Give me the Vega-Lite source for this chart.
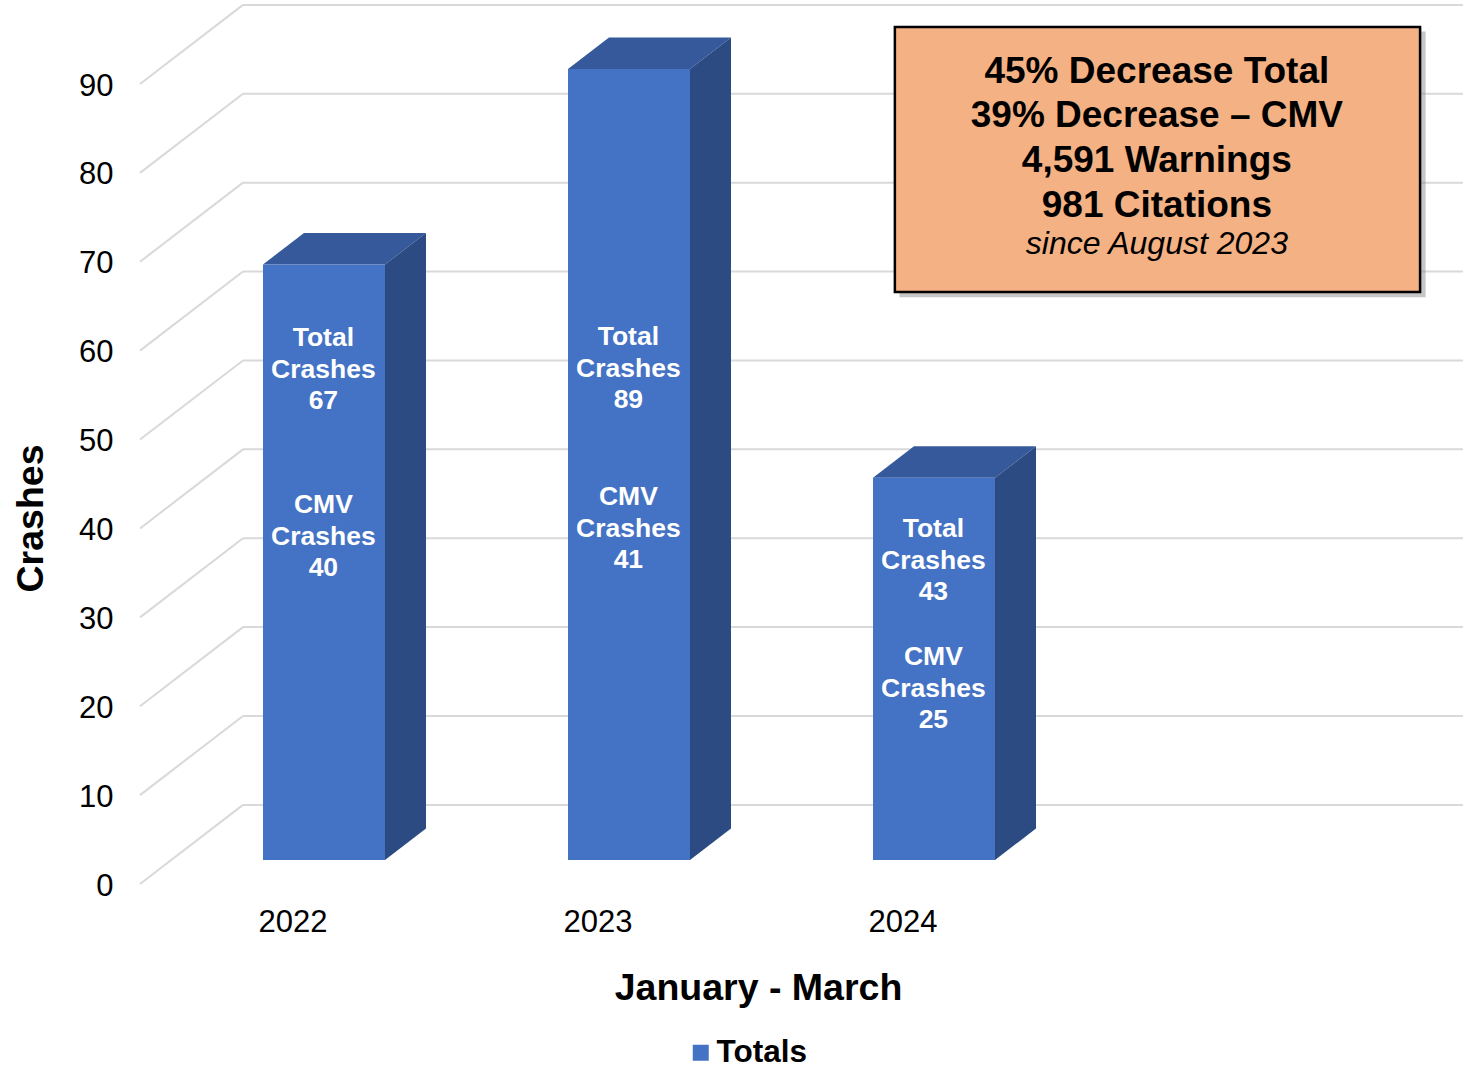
{
  "$schema": "https://vega.github.io/schema/vega-lite/v6.json",
  "width": 1323,
  "height": 880,
  "autosize": {"type": "none"},
  "padding": {"left": 140, "top": 4, "right": 10, "bottom": 185},
  "background": "white",
  "config": {"view": {"stroke": null}, "font": "Liberation Sans"},
  "datasets": {
    "bars": [
      {"year": 2022, "total": 67, "cmv": 40},
      {"year": 2023, "total": 89, "cmv": 41},
      {"year": 2024, "total": 43, "cmv": 25}
    ],
    "grid": [
      {"v": 0}, {"v": 10}, {"v": 20}, {"v": 30}, {"v": 40},
      {"v": 50}, {"v": 60}, {"v": 70}, {"v": 80}, {"v": 90}
    ],
    "labels": [
      {"year": 2022, "kind": "Total", "n": 67, "at": 61.4},
      {"year": 2022, "kind": "CMV", "n": 40, "at": 42.6},
      {"year": 2023, "kind": "Total", "n": 89, "at": 61.5},
      {"year": 2023, "kind": "CMV", "n": 41, "at": 43.5},
      {"year": 2024, "kind": "Total", "n": 43, "at": 39.9},
      {"year": 2024, "kind": "CMV", "n": 25, "at": 25.5}
    ]
  },
  "layer": [
    {
      "data": {"name": "grid"},
      "transform": [{"calculate": "datum.v + 8.9", "as": "vb"}],
      "mark": {"type": "rule", "color": "#D9D9D9", "strokeWidth": 2},
      "encoding": {
        "x": {
          "datum": 2021.5, "type": "quantitative",
          "scale": {"domain": [2021.5, 2025.8377], "nice": false, "zero": false},
          "axis": {
            "title": "January - March", "values": [2022, 2023, 2024], "format": "d",
            "domain": false, "ticks": false, "grid": false, "labelFlush": false,
            "labelFontSize": 31, "labelColor": "black", "labelPadding": 23,
            "titleFontSize": 37.5, "titleFontWeight": "bold", "titleColor": "black",
            "titleX": 618, "titleY": 115, "titleAlign": "center", "titleBaseline": "alphabetic"
          }
        },
        "x2": {"datum": 2021.8377},
        "y": {
          "field": "v", "type": "quantitative",
          "scale": {"domain": [0, 99], "nice": false, "zero": true},
          "axis": {
            "title": "Crashes", "values": [0, 10, 20, 30, 40, 50, 60, 70, 80, 90],
            "domain": false, "ticks": false, "grid": false, "labelFlush": false,
            "labelFontSize": 31, "labelColor": "black", "labelPadding": 27, "labelOffset": 2,
            "titleFontSize": 37.5, "titleFontWeight": "bold", "titleColor": "black",
            "titleX": -98, "titleY": 514, "titleAngle": 270, "titleAlign": "center", "titleBaseline": "alphabetic"
          }
        },
        "y2": {"field": "vb"}
      }
    },
    {
      "data": {"name": "grid"},
      "transform": [{"calculate": "datum.v + 8.9", "as": "vb"}],
      "mark": {"type": "rule", "color": "#D9D9D9", "strokeWidth": 2},
      "encoding": {
        "x": {"datum": 2021.8377, "type": "quantitative"},
        "x2": {"datum": 2025.8377},
        "y": {"field": "vb", "type": "quantitative"}
      }
    },
    {
      "data": {"name": "bars"},
      "transform": [
        {"fold": ["total", "cmv"], "as": ["k", "kv"]},
        {"calculate": "datum.k === 'total' ? 0 : 1", "as": "d"},
        {"calculate": "datum.d === 0 ? datum.total + 2.7 : datum.total + 6.24", "as": "ty"},
        {"calculate": "datum.d === 0 ? datum.year - 0.0967 : datum.year + 0.0377", "as": "tx"},
        {"calculate": "datum.d === 0 ? datum.year + 0.3033 : datum.year + 0.4377", "as": "tx2"}
      ],
      "mark": {"type": "area", "orient": "horizontal", "color": "#35599A"},
      "encoding": {
        "y": {"field": "ty", "type": "quantitative"},
        "x": {"field": "tx", "type": "quantitative", "stack": null},
        "x2": {"field": "tx2"},
        "detail": {"field": "year", "type": "nominal"}
      }
    },
    {
      "data": {"name": "bars"},
      "transform": [
        {"fold": ["total", "cmv"], "as": ["k", "kv"]},
        {"calculate": "datum.k === 'total' ? 0 : 1", "as": "d"},
        {"calculate": "datum.d === 0 ? datum.year + 0.3033 : datum.year + 0.4377", "as": "sx"},
        {"calculate": "datum.d === 0 ? datum.total + 2.7 : datum.total + 6.24", "as": "sy"},
        {"calculate": "datum.d === 0 ? 2.7 : 6.24", "as": "sy2"}
      ],
      "mark": {"type": "area", "orient": "vertical", "color": "#2C4B82"},
      "encoding": {
        "x": {"field": "sx", "type": "quantitative"},
        "y": {"field": "sy", "type": "quantitative", "stack": null},
        "y2": {"field": "sy2"},
        "detail": {"field": "year", "type": "nominal"}
      }
    },
    {
      "data": {"name": "bars"},
      "transform": [
        {"calculate": "datum.year - 0.0967", "as": "x0"},
        {"calculate": "datum.year + 0.3033", "as": "x1"},
        {"calculate": "datum.total + 2.7", "as": "yt"},
        {"calculate": "2.7", "as": "yb"}
      ],
      "mark": {"type": "rect"},
      "encoding": {
        "x": {"field": "x0", "type": "quantitative"},
        "x2": {"field": "x1"},
        "y": {"field": "yb", "type": "quantitative"},
        "y2": {"field": "yt"},
        "color": {
          "datum": "Totals", "type": "nominal",
          "scale": {"range": ["#4472C4"]},
          "legend": {
            "orient": "none", "legendX": 545, "legendY": 1033, "title": null,
            "symbolType": "square", "symbolSize": 256, "symbolStrokeWidth": 0,
            "labelFontSize": 31.5, "labelFontWeight": "bold", "labelColor": "black",
            "labelOffset": 0, "direction": "horizontal", "padding": 0
          }
        }
      }
    },
    {
      "data": {"name": "labels"},
      "transform": [
        {"calculate": "datum.year + 0.1012", "as": "lx"},
        {"calculate": "datum.kind + '\\n' + 'Crashes' + '\\n' + datum.n", "as": "txt"}
      ],
      "mark": {"type": "text", "color": "white", "fontSize": 26.5, "fontWeight": "bold", "lineHeight": 31.5, "lineBreak": "\n", "align": "center", "baseline": "middle"},
      "encoding": {
        "x": {"field": "lx", "type": "quantitative"},
        "y": {"field": "at", "type": "quantitative"},
        "text": {"field": "txt", "type": "nominal"}
      }
    },
    {
      "data": {"values": [{}]},
      "mark": {"type": "rect", "color": "#808080", "opacity": 0.45},
      "encoding": {
        "x": {"datum": 2023.99, "type": "quantitative"},
        "x2": {"datum": 2025.715},
        "y": {"datum": 95.9, "type": "quantitative"},
        "y2": {"datum": 66.0}
      }
    },
    {
      "data": {"values": [{}]},
      "mark": {"type": "rect", "fill": "#F4B183", "stroke": "black", "strokeWidth": 2.5},
      "encoding": {
        "x": {"datum": 2023.975, "type": "quantitative"},
        "x2": {"datum": 2025.697},
        "y": {"datum": 96.4, "type": "quantitative"},
        "y2": {"datum": 66.6}
      }
    },
    {
      "data": {"values": [{}]},
      "mark": {
        "type": "text", "text": ["45% Decrease Total", "39% Decrease – CMV", "4,591 Warnings", "981 Citations"],
        "fontSize": 37, "fontWeight": "bold", "color": "black", "lineHeight": 44.7, "align": "center", "baseline": "middle"
      },
      "encoding": {
        "x": {"datum": 2024.834, "type": "quantitative"},
        "y": {"datum": 91.4, "type": "quantitative"}
      }
    },
    {
      "data": {"values": [{}]},
      "mark": {
        "type": "text", "text": "since August 2023",
        "fontSize": 32, "fontStyle": "italic", "color": "black", "align": "center", "baseline": "middle"
      },
      "encoding": {
        "x": {"datum": 2024.834, "type": "quantitative"},
        "y": {"datum": 72.0, "type": "quantitative"}
      }
    }
  ]
}
